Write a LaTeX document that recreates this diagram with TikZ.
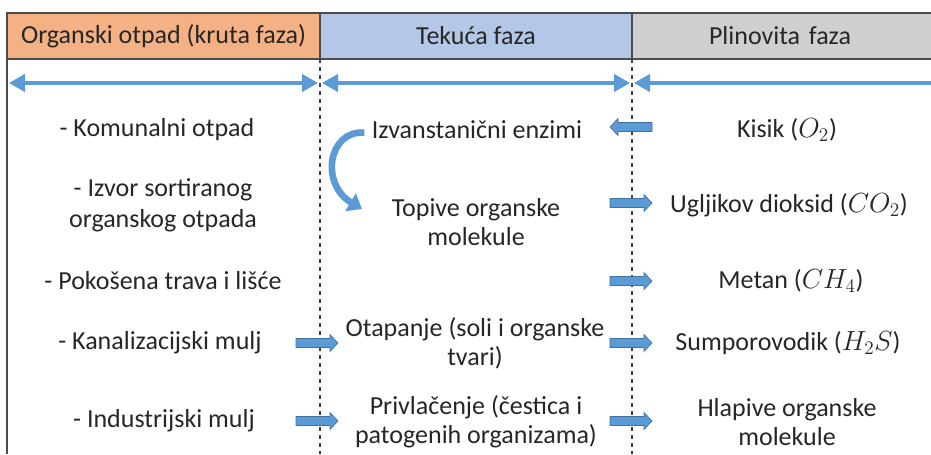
\documentclass[tikz,border=0pt]{standalone}
\usepackage{fontspec}
\setmainfont{Carlito}
\usetikzlibrary{arrows.meta,positioning}

\definecolor{solidfill}{HTML}{F4B183}
\definecolor{liquidfill}{HTML}{B4C7E7}
\definecolor{gasfill}{HTML}{D0CECE}
\definecolor{flowblue}{HTML}{5B9BD5}
\definecolor{flowedge}{HTML}{41719C}
\definecolor{textgray}{HTML}{262626}

\begin{document}
\begin{tikzpicture}[x=0.75pt,y=-0.75pt,
    every node/.style={font=\fontsize{19.5}{21.5}\selectfont,text=textgray,align=center},
    phase node/.style={draw=black!70,line width=1pt,outer sep=0pt,inner sep=0pt,
                       minimum height=34.5pt},
    divider/.style={black!75,line width=0.8pt,dash pattern=on 3pt off 3pt},
    span/.style={flowblue,line width=2.4pt,
                 {Triangle[length=12pt,width=13pt]}-{Triangle[length=12pt,width=13pt]}},
    blockarrow/.pic={\filldraw[draw=flowedge,fill=flowblue,line width=0.5pt]
        (-21,-4.5) -- (13,-4.5) -- (13,-8.5) -- (21,0) -- (13,8.5) -- (13,4.5)
        -- (-21,4.5) -- cycle;}]

  \useasboundingbox (0,0) rectangle (931,454);
  \coordinate (bottom) at (0,454);

  % phase headers
  \node[phase node,fill=solidfill,minimum width=234.75pt] (solid) at (163.5,36)
       {Organski otpad (kruta faza)};
  \node[phase node,fill=liquidfill,minimum width=234pt] (liquid) [right=0pt of solid]
       {Tekuća faza};
  \node[phase node,fill=gasfill,minimum width=228pt,text width=222pt] (gas) [right=0pt of liquid]
       {\hspace*{-6pt}Plinovita faza};

  \draw[black!70,line width=1pt] (solid.south west) -- (solid.south west |- bottom);
  \draw[divider] (solid.south east) -- (solid.south east |- bottom);
  \draw[divider] (liquid.south east) -- (liquid.south east |- bottom);

  % double arrows under the headers
  \coordinate (s1) at (9,83);   \coordinate (s2) at (318,83);
  \coordinate (l1) at (322,83); \coordinate (l2) at (630,83);
  \coordinate (g1) at (634,83); \coordinate (g2) at (940,83);
  \draw[span] (s1) -- (s2);
  \draw[span] (l1) -- (l2);
  \draw[span,-{Triangle[length=12pt,width=13pt]}] (g2) -- (g1);

  % solid phase
  \node (komunalni) at (157,130) {- Komunalni otpad};
  \node (izvor) at (163,205) {- Izvor sortiranog\\[1.5pt]organskog otpada};
  \node (trava) at (163,281) {- Pokošena trava i lišće};
  \node (kanal) at (160,343) {- Kanalizacijski mulj};
  \node (indus) at (164,421) {- Industrijski mulj};

  % liquid phase
  \node (enzimi) at (477,130) {Izvanstanični enzimi};
  \node (topive) at (476,222) {Topive organske\\molekule};
  \node (otapanje) at (475,343) {Otapanje (soli i organske\\tvari)};
  \node (privl) at (476,422) {Privlačenje (čestica i\\patogenih organizama)};

  % gas phase
  \node (kisik) at (787,130) {Kisik ($O_2$)};
  \node (co2) at (789,205) {Ugljikov dioksid ($CO_2$)};
  \node (metan) at (791,281) {Metan ($CH_4$)};
  \node (h2s) at (788,343) {Sumporovodik ($H_2S$)};
  \node (hlapive) at (787,422) {Hlapive organske\\molekule};

  % exchange arrows
  \pic[rotate=180] at (631,127) {blockarrow};
  \pic at (631,203) {blockarrow};
  \pic at (631,281) {blockarrow};
  \pic at (631,343) {blockarrow};
  \pic at (631,421) {blockarrow};
  \pic at (317,343) {blockarrow};
  \pic at (317,421) {blockarrow};

  % enzymes act on the waste
  \coordinate (bend) at (362,209);
  \draw[flowblue,line width=5pt,-{Triangle[length=10pt,width=15pt]}]
    ([xshift=-2pt,yshift=-2pt]enzimi.west) .. controls (328,130) and (320,184) .. (bend);
\end{tikzpicture}
\end{document}
